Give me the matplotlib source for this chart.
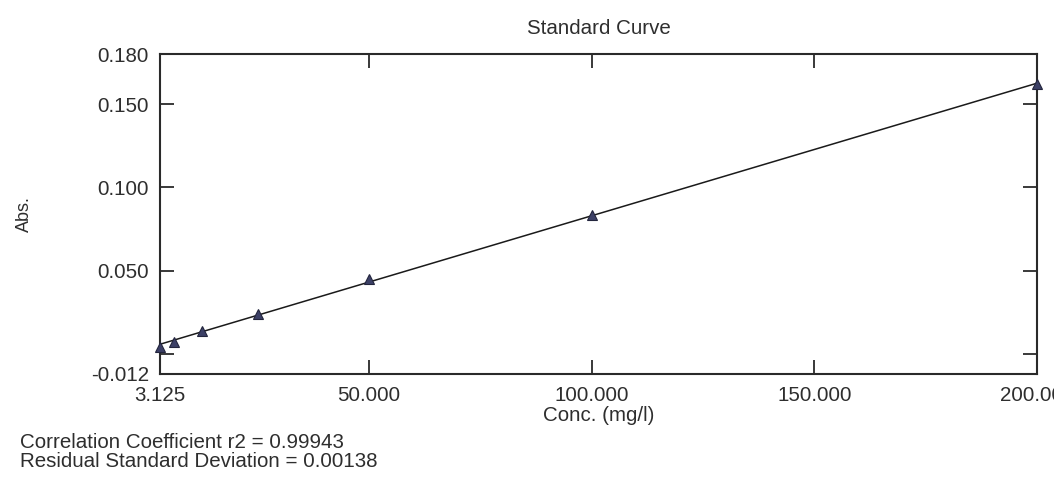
import numpy as np
import matplotlib
matplotlib.use("Agg")
import matplotlib.pyplot as plt

# Data
conc = [3.125, 6.25, 12.5, 25.0, 50.0, 100.0, 200.0]
absorb = [0.0037, 0.0071, 0.0139, 0.0238, 0.0450, 0.0833, 0.1620]
y_ticks = [-0.012, 0.0, 0.050, 0.100, 0.150, 0.180]
y_ticklabels = ["-0.012", "", "0.050", "0.100", "0.150", "0.180"]
x_ticks = [3.125, 50.0, 100.0, 150.0, 200.0]
x_ticklabels = ["3.125", "50.000", "100.000", "150.000", "200.000"]
r2_text = "Correlation Coefficient r2 = 0.99943"
rsd_text = "Residual Standard Deviation = 0.00138"

plt.rcParams['font.family'] = ['Liberation Sans', 'DejaVu Sans']
txt = "#2e2e2e"
fs = 14.8

fig = plt.figure(figsize=(10.54, 4.82), dpi=100)
ax = fig.add_axes([0.152, 0.225, 0.832, 0.662])

# linear fit through the data
coef = np.polyfit(conc, absorb, 1)
xs = np.array([conc[0], conc[-1]])
ax.plot(xs, np.polyval(coef, xs), color="#1a1a1a", lw=1.1, zorder=2)
ax.plot(conc, absorb, linestyle="none", marker="^", markersize=7.5,
        markerfacecolor="#3c4066", markeredgecolor="#23253d", markeredgewidth=0.8,
        zorder=3, clip_on=False)

ax.set_xlim(3.125, 200)
ax.set_ylim(-0.012, 0.180)
ax.set_xticks(x_ticks)
ax.set_xticklabels(x_ticklabels)
ax.set_yticks(y_ticks)
ax.set_yticklabels(y_ticklabels)
ax.tick_params(direction="in", length=10, width=1.3, colors="#2a2a2a",
               labelsize=fs, labelcolor=txt, top=True, right=True, pad=8)
ax.tick_params(axis="x", pad=9)
for s in ax.spines.values():
    s.set_linewidth(1.5)
    s.set_color("#2a2a2a")

ax.set_title("Standard Curve", fontsize=fs, color=txt, pad=15)
ax.set_xlabel("Conc. (mg/l)", fontsize=fs, color=txt, labelpad=1)
fig.text(0.023, 0.555, "Abs.", rotation=90, fontsize=13, color=txt,
         ha="center", va="center")

fig.text(0.019, 0.081, r2_text, fontsize=fs, color=txt, ha="left", va="center")
fig.text(0.019, 0.042, rsd_text, fontsize=fs, color=txt, ha="left", va="center")

fig.savefig("out.png", dpi=100, facecolor="white")
